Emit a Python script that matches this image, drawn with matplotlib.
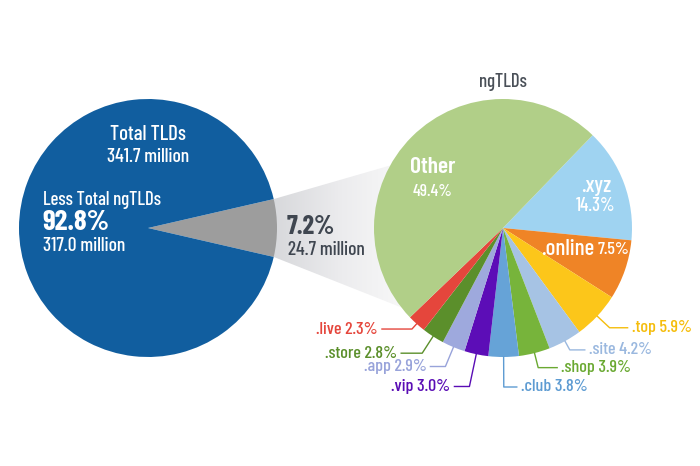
import matplotlib.pyplot as plt
import numpy as np
from matplotlib.patches import Polygon
from matplotlib.colors import LinearSegmentedColormap

plt.rcParams['font.family'] = ['Barlow Condensed', 'DejaVu Sans']
plt.rcParams['font.weight'] = 'medium'

# Total TLDs split
total_labels = ['ngTLDs', 'Less Total ngTLDs']
total_share = [7.2, 92.8]
total_million = [24.7, 317.0]
total_all = 341.7

# ngTLD breakdown (clockwise from .xyz)
tlds = ['.xyz', '.online', '.top', '.site', '.shop', '.club',
        '.vip', '.app', '.store', '.live', 'Other']
shares = [14.3, 7.5, 5.9, 4.2, 3.9, 3.8, 3.0, 2.9, 2.8, 2.3, 49.4]
colors = ['#9fd3f1', '#ef8426', '#fcc61a', '#a6c3e4', '#77b43b', '#66a3d7',
          '#5c0db7', '#9ea9dd', '#5b8f2b', '#e5463c', '#b1cf88']
text_colors = {'.top': '#f5bd0c', '.site': '#9ab8df', '.shop': '#6aa932',
               '.club': '#5d9bd2', '.vip': '#5a0db5', '.app': '#98a3da',
               '.store': '#5b8f2b', '.live': '#e5463c'}

# layout
W, H = 700, 466
left_c = (148, 238)
right_c = (503, 238)
R = 129
blue = '#115e9f'
grey = '#9d9d9d'
dark = '#3f4650'

fig = plt.figure(figsize=(7, 4.66), dpi=100)
ax = fig.add_axes([0, 0, 1, 1])

# left pie: the ngTLD share centred at 0 degrees
half = total_share[0] / 100 * 180
lw, _ = ax.pie(total_share, colors=[grey, blue], startangle=-half,
               center=left_c, radius=R, frame=True,
               wedgeprops=dict(linewidth=0))

# grey fan connecting the two pies
th = np.deg2rad(half)
a_top = (left_c[0] + R * np.cos(th), left_c[1] + R * np.sin(th))
a_bot = (left_c[0] + R * np.cos(th), left_c[1] - R * np.sin(th))
b_top = (right_c[0] + R * np.cos(np.deg2rad(151)), right_c[1] + R * np.sin(np.deg2rad(151)))
b_bot = (right_c[0] + R * np.cos(np.deg2rad(-142)), right_c[1] + R * np.sin(np.deg2rad(-142)))
fan = Polygon([a_top, b_top, right_c, b_bot, a_bot], closed=True,
              facecolor='none', edgecolor='none')
ax.add_patch(fan)
cmap = LinearSegmentedColormap.from_list('fan', ['#d6d7da', '#ececee', '#fafafa'])
grad = np.linspace(0, 1, 256).reshape(1, -1)
im = ax.imshow(grad, cmap=cmap, extent=[a_top[0] - 5, right_c[0] - 90, 100, 330],
               aspect='auto', zorder=0.5)
im.set_clip_path(fan)
for w in lw:
    w.set_zorder(1)

# right pie
start = 46
rw, _ = ax.pie(shares, colors=colors, startangle=start, counterclock=False,
               center=right_c, radius=R, frame=True,
               wedgeprops=dict(linewidth=0))
for w in rw:
    w.set_zorder(2)
ax.set_xlim(0, W)
ax.set_ylim(0, H)
ax.set_aspect('auto')
ax.axis('off')

# left pie text
ax.text(left_c[0], H - 135, 'Total TLDs', color='white', fontsize=15,
        ha='center', va='center')
ax.text(left_c[0], H - 157, f'{total_all:.1f} million', color='white',
        fontsize=14, ha='center', va='center')
ax.text(43, H - 200, total_labels[1], color='white', fontsize=13.5,
        ha='left', va='center')
ax.text(42, H - 223, f'{total_share[1]:.1f}%', color='white', fontsize=21,
        fontweight='bold', ha='left', va='center')
ax.text(43, H - 246, f'{total_million[1]:.1f} million', color='white',
        fontsize=14, ha='left', va='center')
ax.text(287, H - 227, f'{total_share[0]:.1f}%', color=dark, fontsize=19,
        fontweight='bold', ha='left', va='center')
ax.text(288, H - 250, f'{total_million[0]:.1f} million', color=dark,
        fontsize=14, ha='left', va='center')

# right pie title
ax.text(right_c[0], H - 82, total_labels[0], color='#4a5058', fontsize=13.5,
        ha='center', va='center')

# inside labels
ax.text(433, H - 167, tlds[10], color='white', fontsize=17, fontweight='semibold',
        ha='center', va='center')
ax.text(433, H - 192, f'{shares[10]:.1f}%', color='white', fontsize=12.5,
        ha='center', va='center')
ax.text(596, H - 186, tlds[0], color='white', fontsize=16,
        ha='center', va='center')
ax.text(596, H - 206, f'{shares[0]:.1f}%', color='white', fontsize=13.5,
        ha='center', va='center')
ax.text(594, H - 249, tlds[1], color='white', fontsize=16.5,
        ha='right', va='center')
ax.text(598, H - 250, f'{shares[1]:.1f}%', color='white', fontsize=13,
        ha='left', va='center')

# outside labels with elbow leaders: (elbow radius, horizontal length, side)
leader = {'.top': (146, 18, 1), '.site': (139, 15, 1), '.shop': (144, 19, 1),
          '.club': (159, 13, 1), '.vip': (162, 15, -1), '.app': (150, 15, -1),
          '.store': (149, 21, -1), '.live': (136, 30, -1)}
for w, name, val in zip(rw, tlds, shares):
    if name not in leader:
        continue
    er, hl, side = leader[name]
    mid = np.deg2rad((w.theta1 + w.theta2) / 2)
    x0 = right_c[0] + R * np.cos(mid)
    y0 = right_c[1] + R * np.sin(mid)
    x1 = right_c[0] + er * np.cos(mid)
    y1 = right_c[1] + er * np.sin(mid)
    x2 = x1 + side * hl
    c = text_colors[name]
    ax.plot([x0, x1, x2], [y0, y1, y1], color=c, linewidth=1, zorder=3)
    ax.text(x2 + side * 4, y1, f'{name} {val:.1f}%', color=c, fontsize=13,
            ha='left' if side > 0 else 'right', va='center')

fig.savefig('out.png', dpi=100)
